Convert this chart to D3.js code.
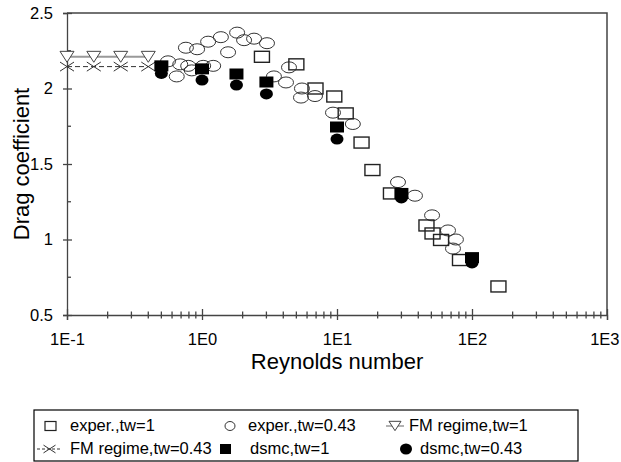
<html>
<script src="https://d3js.org/d3.v7.min.js"></script>
<style>
    body { margin: 0; background: #fff; }
    svg { font-family: "Liberation Sans", Arial, sans-serif; }
    .frame { fill: none; stroke: #444; stroke-width: 1.5px; }
    .axis path, .axis line { stroke: #444; stroke-width: 1.3px; }
    .axis text { font-size: 16.5px; fill: #000; }
    .legend text { font-size: 16.5px; }
</style>
<svg width=621 height=462></svg>
<script>

    // FM regime (free molecular) lines
    const fmRe = [0.1, 0.158, 0.25, 0.4];
    const fmCdTw1 = [2.21, 2.21, 2.21, 2.21];
    const fmCdTw043 = [2.145, 2.145, 2.145, 2.145];

    // experiments, tw=1 (open squares)
    const expRe1 = [2.78, 5.0, 6.93, 9.55, 11.6, 15.2, 18.3, 25.1, 46, 51, 59, 81.5, 157];
    const expCd1 = [2.21, 2.16, 2.0, 1.947, 1.835, 1.642, 1.46, 1.305, 1.093, 1.04, 0.997, 0.864, 0.689];

    // experiments, tw=0.43 (open circles)
    const expRe043 = [0.56, 0.65, 0.69, 0.76, 0.79, 0.84, 0.92, 1.02, 1.11, 1.21, 1.38, 1.56, 1.82, 2.05, 2.43,
                      3.03, 3.41, 4.19, 4.41, 5.5, 5.41, 6.87, 9.34, 13.1, 28.3, 37.8, 50.6, 66.4, 76, 72.3];
    const expCd043 = [2.18, 2.08, 2.16, 2.27, 2.15, 2.12, 2.26, 2.15, 2.31, 2.15, 2.34, 2.24, 2.37, 2.32, 2.33,
                      2.30, 2.08, 2.04, 2.14, 2.0, 1.94, 1.95, 1.84, 1.765, 1.38, 1.29, 1.16, 1.06, 1.0, 0.94];

    // dsmc results
    const dsmcRe = [0.5, 1, 1.8, 3, 10, 30, 100];
    const dsmcCdTw1 = [2.15, 2.13, 2.096, 2.043, 1.745, 1.305, 0.88];
    const dsmcCdTw043 = [2.10, 2.056, 2.023, 1.964, 1.665, 1.275, 0.845];

    const xMajor = [0.1, 1, 10, 100, 1000];
    const yMajor = [0.5, 1, 1.5, 2, 2.5];
    const yMinor = [0.75, 1.25, 1.75, 2.25];

    let svg = d3.select('svg'),
        margin = { top: 13, right: 14, bottom: 147, left: 67 },
        width = +svg.attr('width') - margin.left - margin.right,
        height = +svg.attr('height') - margin.top - margin.bottom;

    let x = d3.scaleLog().domain([0.1, 1000]).range([margin.left, margin.left + width]);
    let y = d3.scaleLinear().domain([0.5, 2.5]).range([margin.top + height, margin.top]);

    // frame: top and right
    svg.append('path').attr('class', 'frame')
        .attr('d', 'M' + x(0.1) + ',' + y(2.5) + 'H' + x(1000) + 'V' + y(0.5));

    // x axis minor ticks
    let xMinor = [];
    [0.1, 1, 10, 100].forEach(d => { for (let k = 2; k < 10; k++) xMinor.push(d * k); });

    let gx = svg.append('g').attr('class', 'axis')
        .attr('transform', 'translate(0,' + y(0.5) + ')');
    gx.call(d3.axisBottom(x).tickValues(xMajor).tickSizeOuter(0).tickSize(5).tickPadding(15)
        .tickFormat(d => '1E' + Math.round(Math.log10(d))));
    gx.selectAll('.tick line').attr('y1', -6);
    gx.selectAll('.minor').data(xMinor).enter().append('line')
        .attr('class', 'minor')
        .attr('x1', d => x(d)).attr('x2', d => x(d))
        .attr('y1', -3.5).attr('y2', 3.5);
    gx.selectAll('.tick text').attr('dy', '0.71em').attr('y', 18);
    // last label sits at the window edge
    gx.selectAll('.tick text').filter(d => d === 1000)
        .attr('text-anchor', 'end').attr('x', 12);

    let gy = svg.append('g').attr('class', 'axis')
        .attr('transform', 'translate(' + x(0.1) + ',0)');
    gy.call(d3.axisLeft(y).tickValues(yMajor).tickSizeOuter(0).tickSize(4).tickPadding(10)
        .tickFormat(d3.format('')));
    gy.selectAll('.tick line').attr('x1', 5);
    gy.selectAll('.minor').data(yMinor).enter().append('line')
        .attr('class', 'minor')
        .attr('x1', 0).attr('x2', 4)
        .attr('y1', d => y(d)).attr('y2', d => y(d));

    // axis titles
    svg.append('text')
        .attr('x', (x(0.1) + x(1000)) / 2).attr('y', 369)
        .attr('text-anchor', 'middle').style('font-size', '22px')
        .text('Reynolds number');
    svg.append('text')
        .attr('transform', 'translate(29,' + ((y(0.5) + y(2.5)) / 2) + ') rotate(-90)')
        .attr('text-anchor', 'middle').style('font-size', '22px')
        .text('Drag coefficient');

    // marker helpers
    function tri(g, cx, cy, s) {
        g.append('path')
            .attr('d', 'M' + (cx - s) + ',' + (cy - s * 0.78) + 'L' + (cx + s) + ',' + (cy - s * 0.78) + 'L' + cx + ',' + (cy + s * 0.78) + 'Z')
            .attr('fill', 'white').attr('stroke', '#444').attr('stroke-width', 1);
    }
    function cross(g, cx, cy, s) {
        g.append('path')
            .attr('d', 'M' + (cx - s) + ',' + (cy - s * 0.65) + 'L' + (cx + s) + ',' + (cy + s * 0.65) +
                'M' + (cx - s) + ',' + (cy + s * 0.65) + 'L' + (cx + s) + ',' + (cy - s * 0.65))
            .attr('stroke', '#333').attr('stroke-width', 1).attr('fill', 'none');
    }

    let fmData1 = fmRe.map((d, i) => [d, fmCdTw1[i]]);
    let fmData043 = fmRe.map((d, i) => [d, fmCdTw043[i]]);
    let line = d3.line().x(d => x(d[0])).y(d => y(d[1]));

    let plot = svg.append('g');

    plot.append('path').datum(fmData1).attr('d', line)
        .attr('fill', 'none').attr('stroke', '#999').attr('stroke-width', 2);
    plot.append('path').datum(fmData043).attr('d', line)
        .attr('fill', 'none').attr('stroke', '#333').attr('stroke-width', 1)
        .attr('stroke-dasharray', '5,3');
    fmData1.forEach(d => tri(plot, x(d[0]), y(d[1]), 7));
    fmData043.forEach(d => cross(plot, x(d[0]), y(d[1]), 7));

    // open circles
    plot.selectAll('.oc').data(expRe043.map((d, i) => [d, expCd043[i]])).enter()
        .append('ellipse').attr('class', 'oc')
        .attr('cx', d => x(d[0])).attr('cy', d => y(d[1]))
        .attr('rx', 7.5).attr('ry', 5.5)
        .attr('fill', 'none').attr('stroke', '#333').attr('stroke-width', 1);

    // open squares
    plot.selectAll('.os').data(expRe1.map((d, i) => [d, expCd1[i]])).enter()
        .append('rect').attr('class', 'os')
        .attr('x', d => x(d[0]) - 7.5).attr('y', d => y(d[1]) - 5.5)
        .attr('width', 15).attr('height', 11)
        .attr('fill', 'none').attr('stroke', '#222').attr('stroke-width', 1.4);

    // dsmc
    plot.selectAll('.fc').data(dsmcRe.map((d, i) => [d, dsmcCdTw043[i]])).enter()
        .append('ellipse').attr('class', 'fc')
        .attr('cx', d => x(d[0])).attr('cy', d => y(d[1]))
        .attr('rx', 6.5).attr('ry', 5.5).attr('fill', '#000');
    plot.selectAll('.fs').data(dsmcRe.map((d, i) => [d, dsmcCdTw1[i]])).enter()
        .append('rect').attr('class', 'fs')
        .attr('x', d => x(d[0]) - 7).attr('y', d => y(d[1]) - 5.5)
        .attr('width', 14).attr('height', 11).attr('fill', '#000');

    // legend
    let lg = svg.append('g').attr('class', 'legend');
    lg.append('rect').attr('x', 34).attr('y', 410).attr('width', 544).attr('height', 51)
        .attr('fill', 'none').attr('stroke', '#000').attr('stroke-width', 1.2);

    let r1 = 431, r2 = 454, m1 = r1 - 5, m2 = r2 - 5;
    lg.append('rect').attr('x', 45).attr('y', m1 - 4.5).attr('width', 11).attr('height', 9)
        .attr('fill', 'none').attr('stroke', '#222').attr('stroke-width', 1.2);
    lg.append('text').attr('x', 70).attr('y', r1).text('exper.,tw=1');
    lg.append('ellipse').attr('cx', 230).attr('cy', m1).attr('rx', 5).attr('ry', 4.5)
        .attr('fill', 'none').attr('stroke', '#333').attr('stroke-width', 1);
    lg.append('text').attr('x', 248).attr('y', r1).text('exper.,tw=0.43');
    lg.append('line').attr('x1', 386).attr('x2', 404).attr('y1', m1).attr('y2', m1)
        .attr('stroke', '#999').attr('stroke-width', 1.5);
    tri(lg, 395, m1, 6);
    lg.append('text').attr('x', 409).attr('y', r1).text('FM regime,tw=1');

    lg.append('line').attr('x1', 37).attr('x2', 62).attr('y1', m2).attr('y2', m2)
        .attr('stroke', '#333').attr('stroke-width', 1).attr('stroke-dasharray', '3,2');
    cross(lg, 49.5, m2, 6);
    lg.append('text').attr('x', 70).attr('y', r2).text('FM regime,tw=0.43');
    lg.append('rect').attr('x', 220).attr('y', m2 - 5).attr('width', 11).attr('height', 10).attr('fill', '#000');
    lg.append('text').attr('x', 250).attr('y', r2).text('dsmc,tw=1');
    lg.append('ellipse').attr('cx', 406).attr('cy', m2).attr('rx', 6).attr('ry', 5.5).attr('fill', '#000');
    lg.append('text').attr('x', 420).attr('y', r2).text('dsmc,tw=0.43');

</script>
</html>
